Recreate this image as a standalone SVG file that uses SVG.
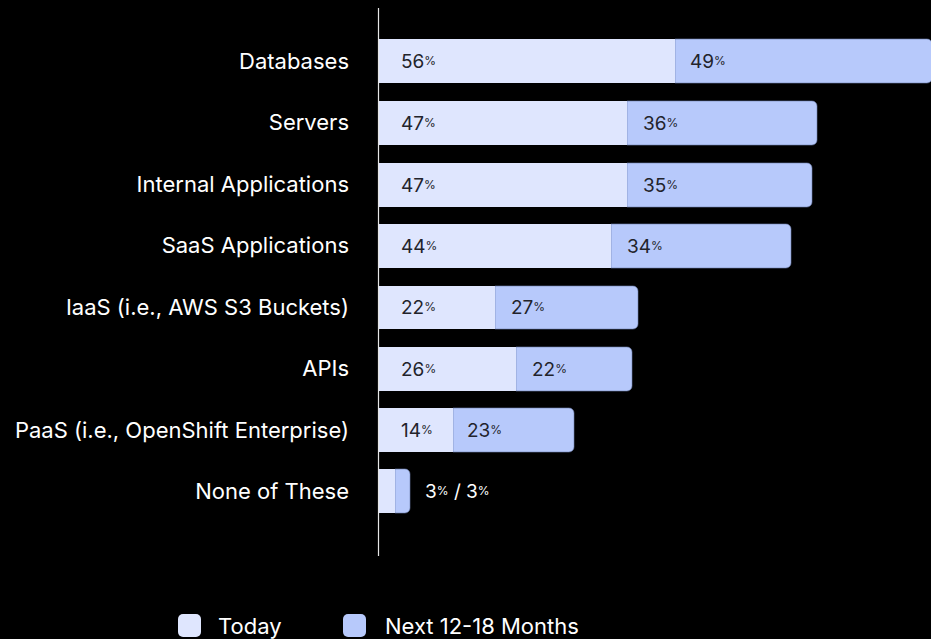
<svg xmlns="http://www.w3.org/2000/svg" width="931" height="639" viewBox="0 0 931 639">
<style>
.lbl{font-family:Inter,"Liberation Sans",sans-serif;font-size:22px;fill:#ffffff;text-anchor:end}
.val{font-family:Inter,"Liberation Sans",sans-serif;font-size:19px;fill:#22232b}
.pc{font-size:12px}
.today{fill:#dfe6fe}
.next{fill:#b7c9fb;stroke:#6f7fae;stroke-width:0.6}
.leg{font-family:Inter,"Liberation Sans",sans-serif;font-size:22px;fill:#ffffff}
</style>
<rect width="931" height="639" fill="#000000"/>
<g id="bars">
<g id="databases">
<text class="lbl" x="349" y="69">Databases</text>
<path class="next" d="M675 39H927a5 5 0 0 1 5 5V78a5 5 0 0 1-5 5H675Z"/>
<rect class="today" x="379" y="39" width="296" height="44"/>
<text class="val" x="401" y="68">56<tspan class="pc" dy="-3">%</tspan></text>
<text class="val" x="690" y="68">49<tspan class="pc" dy="-3">%</tspan></text>
</g>
<g id="servers">
<text class="lbl" x="349" y="130">Servers</text>
<path class="next" d="M627 101H812a5 5 0 0 1 5 5V140a5 5 0 0 1-5 5H627Z"/>
<rect class="today" x="379" y="101" width="248" height="44"/>
<text class="val" x="401" y="130">47<tspan class="pc" dy="-3">%</tspan></text>
<text class="val" x="643" y="130">36<tspan class="pc" dy="-3">%</tspan></text>
</g>
<g id="internal">
<text class="lbl" x="349" y="192">Internal Applications</text>
<path class="next" d="M627 163H807a5 5 0 0 1 5 5V202a5 5 0 0 1-5 5H627Z"/>
<rect class="today" x="379" y="163" width="248" height="44"/>
<text class="val" x="401" y="192">47<tspan class="pc" dy="-3">%</tspan></text>
<text class="val" x="643" y="192">35<tspan class="pc" dy="-3">%</tspan></text>
</g>
<g id="saas">
<text class="lbl" x="349" y="253">SaaS Applications</text>
<path class="next" d="M611 224H786a5 5 0 0 1 5 5V263a5 5 0 0 1-5 5H611Z"/>
<rect class="today" x="379" y="224" width="232" height="44"/>
<text class="val" x="401" y="253">44<tspan class="pc" dy="-3">%</tspan></text>
<text class="val" x="627" y="253">34<tspan class="pc" dy="-3">%</tspan></text>
</g>
<g id="iaas">
<text class="lbl" x="349" y="315">IaaS (i.e., AWS S3 Buckets)</text>
<path class="next" d="M495 286H633a5 5 0 0 1 5 5V324a5 5 0 0 1-5 5H495Z"/>
<rect class="today" x="379" y="286" width="116" height="43"/>
<text class="val" x="401" y="314">22<tspan class="pc" dy="-3">%</tspan></text>
<text class="val" x="511" y="314">27<tspan class="pc" dy="-3">%</tspan></text>
</g>
<g id="apis">
<text class="lbl" x="349" y="376">APIs</text>
<path class="next" d="M516 347H627a5 5 0 0 1 5 5V386a5 5 0 0 1-5 5H516Z"/>
<rect class="today" x="379" y="347" width="137" height="44"/>
<text class="val" x="401" y="376">26<tspan class="pc" dy="-3">%</tspan></text>
<text class="val" x="532" y="376">22<tspan class="pc" dy="-3">%</tspan></text>
</g>
<g id="paas">
<text class="lbl" x="349" y="438">PaaS (i.e., OpenShift Enterprise)</text>
<path class="next" d="M453 408H569a5 5 0 0 1 5 5V447a5 5 0 0 1-5 5H453Z"/>
<rect class="today" x="379" y="408" width="74" height="44"/>
<text class="val" x="401" y="437">14<tspan class="pc" dy="-3">%</tspan></text>
<text class="val" x="467" y="437">23<tspan class="pc" dy="-3">%</tspan></text>
</g>
<g id="none">
<text class="lbl" x="349" y="499">None of These</text>
<path class="next" d="M395 469H405a5 5 0 0 1 5 5V508a5 5 0 0 1-5 5H395Z"/>
<rect class="today" x="379" y="469" width="16" height="44"/>
<text class="val" x="425" y="498" style="fill:#ffffff">3<tspan class="pc" dy="-3">%</tspan><tspan dy="3"> / 3</tspan><tspan class="pc" dy="-3">%</tspan></text>
</g>
</g>
<g id="connectors">
<line x1="378.5" y1="8" x2="378.5" y2="556" stroke="#e6e6e6" stroke-width="1.2"/>
</g>
<g id="legend">
<rect class="today" x="178" y="614" width="23" height="23" rx="5"/>
<text class="leg" x="218" y="634">Today</text>
<rect x="343" y="614" width="23" height="23" rx="5" fill="#b7c9fb"/>
<text class="leg" x="385" y="634">Next 12-18 Months</text>
</g>
</svg>
